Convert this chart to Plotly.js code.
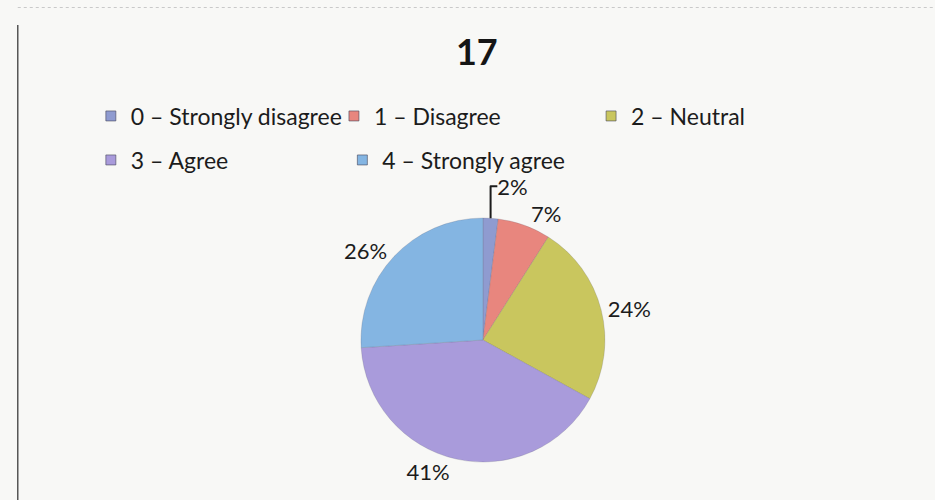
<!DOCTYPE html>
<html>
<head>
<meta charset="utf-8">
<script src="https://cdn.plot.ly/plotly-3.0.1.min.js"></script>
<style>html,body{margin:0;padding:0;background:#f8f8f6;}#chart{width:935px;height:500px;}</style>
</head>
<body>
<div id="chart"></div>
<script>
const categories = ["0 – Strongly disagree", "1 – Disagree", "2 – Neutral", "3 – Agree", "4 – Strongly agree"];
const shares = [2, 7, 24, 41, 26];
const sliceColors = ["#8f9bd0", "#e8867e", "#c9c65e", "#a99bdb", "#84b5e2"];
const chartTitle = "17";

const fontFam = "Lato, 'Open Sans', sans-serif";

const pie = {
  type: "pie",
  labels: categories,
  values: shares,
  sort: false,
  direction: "clockwise",
  rotation: 0,
  marker: {colors: sliceColors, line: {color: "rgba(90,90,110,0.35)", width: 0.6}},
  textinfo: "percent",
  texttemplate: "%{percent:.0%}",
  textposition: "outside",
  outsidetextfont: {family: fontFam, size: 22, color: "#1c1c1c"},
  automargin: false,
  showlegend: false,
  hoverinfo: "label+percent",
  domain: {x: [0.383, 0.650], y: [0.076, 0.564]}
};

// legend entries (one small legend per entry so each can sit where the reference puts it)
const legendNames = ["legend", "legend2", "legend3", "legend4", "legend5"];
const legendX = [0.110, 0.370, 0.645, 0.110, 0.379];
const legendY = [0.768, 0.768, 0.768, 0.68, 0.68];

const keyTraces = categories.map((c, i) => ({
  type: "scatter", mode: "markers", x: [null], y: [null], name: c,
  legend: legendNames[i], showlegend: true, hoverinfo: "skip",
  marker: {symbol: "square", size: 10, color: sliceColors[i], line: {color: "rgba(70,70,90,0.6)", width: 1}}
}));

const layout = {
  width: 935, height: 500,
  paper_bgcolor: "#f8f8f6",
  plot_bgcolor: "rgba(0,0,0,0)",
  margin: {l: 0, r: 0, t: 0, b: 0},
  xaxis: {visible: false}, yaxis: {visible: false},
  title: {text: "<b>" + chartTitle + "</b>", x: 0.51, xanchor: "center", y: 0.896, yanchor: "middle",
          font: {family: fontFam, size: 36, color: "#151515"}},
  showlegend: true,
  shapes: [
    {type: "line", xref: "paper", yref: "paper", x0: 0.019, x1: 0.019, y0: 0, y1: 0.95, line: {color: "#555", width: 1.5}},
    {type: "line", xref: "paper", yref: "paper", x0: 0.019, x1: 1, y0: 0.985, y1: 0.985, line: {color: "#c9c9c9", width: 1, dash: "dot"}}
  ]
};
legendNames.forEach((ln, i) => {
  layout[ln] = {x: legendX[i], xanchor: "left", y: legendY[i], yanchor: "middle",
                bgcolor: "rgba(0,0,0,0)", borderwidth: 0, indentation: -12,
                font: {family: fontFam, size: 23, color: "#1c1c1c"}};
});

Plotly.newPlot("chart", [pie].concat(keyTraces), layout, {displayModeBar: false, staticPlot: true});
</script>
</body>
</html>
